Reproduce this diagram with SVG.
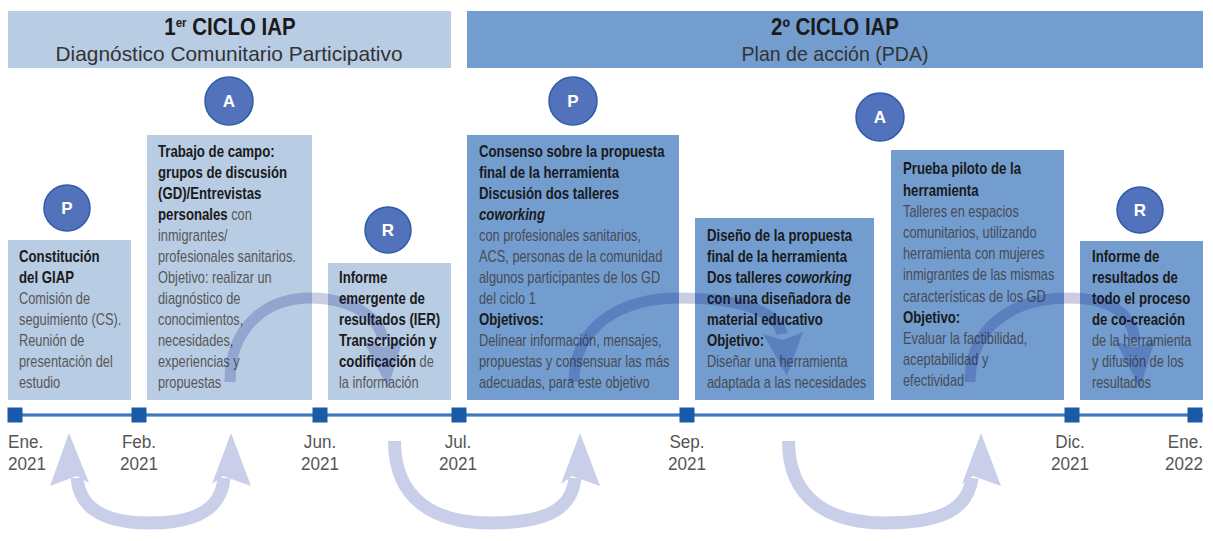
<svg xmlns="http://www.w3.org/2000/svg" width="1213" height="541" viewBox="0 0 1213 541">
<style>
.t{font-family:"Liberation Sans",Arial,sans-serif}
.lb{fill:#b8cce4}
.db{fill:#739dcf}
.b{font-size:16.5px;font-weight:bold;fill:#1a1a1a}
.i{font-style:italic}
.r{font-size:16px;fill:#575757}
.rd{font-size:16px;fill:#464b54}
.c{fill:#5273bc;stroke:#2d5ba7;stroke-width:1.5}
.cl{font-size:17px;font-weight:bold;fill:#ffffff;text-anchor:middle}
.dl{font-size:19px;fill:#555555}
.sq{fill:#1a5aab}
.ba{fill:none;stroke:#c9cfe8;stroke-width:13}
.bh{fill:#c9cfe8}
.ua{fill:none;stroke:#0a1a82;stroke-width:11}
.uh{fill:#0a1a82}
</style>
<rect width="1213" height="541" fill="#ffffff"/>

<g id="header1">
<rect class="lb" x="8" y="11" width="443" height="57"/>
<text class="t" transform="translate(230 0) scale(0.89 1)" text-anchor="middle" font-size="23" font-weight="bold" fill="#1a1a1a"><tspan x="0" y="35">1</tspan><tspan font-size="13" dy="-8">er</tspan><tspan dy="8"> CICLO IAP</tspan></text>
<text class="t" x="229" y="61" text-anchor="middle" font-size="21" fill="#333333" textLength="347" lengthAdjust="spacingAndGlyphs">Diagnóstico Comunitario Participativo</text>
</g>

<g id="header2">
<rect class="db" x="467" y="11" width="736" height="57"/>
<text class="t" x="835" y="35" text-anchor="middle" font-size="23" font-weight="bold" fill="#1a1a1a" textLength="128" lengthAdjust="spacingAndGlyphs">2º CICLO IAP</text>
<text class="t" x="835" y="61" text-anchor="middle" font-size="21" fill="#333333" textLength="187" lengthAdjust="spacingAndGlyphs">Plan de acción (PDA)</text>
</g>

<g id="timeline">
<line x1="8" y1="415" x2="1203" y2="415" stroke="#1d5bab" stroke-width="3"/>
<line x1="8" y1="415" x2="1203" y2="415" stroke="#6c95d2" stroke-width="1"/>
<rect class="sq" x="7.5" y="407.5" width="15" height="15"/>
<rect class="sq" x="131.5" y="407.5" width="15" height="15"/>
<rect class="sq" x="312.5" y="407.5" width="15" height="15"/>
<rect class="sq" x="451.5" y="407.5" width="15" height="15"/>
<rect class="sq" x="679.5" y="407.5" width="15" height="15"/>
<rect class="sq" x="1064.5" y="407.5" width="15" height="15"/>
<rect class="sq" x="1187.5" y="407.5" width="15" height="15"/>
<text class="t dl" transform="translate(8 0) scale(0.9 1)"><tspan x="0" y="448">Ene.</tspan><tspan x="0" y="470">2021</tspan></text>
<text class="t dl" transform="translate(139 0) scale(0.9 1)" text-anchor="middle"><tspan x="0" y="448">Feb.</tspan><tspan x="0" y="470">2021</tspan></text>
<text class="t dl" transform="translate(320 0) scale(0.9 1)" text-anchor="middle"><tspan x="0" y="448">Jun.</tspan><tspan x="0" y="470">2021</tspan></text>
<text class="t dl" transform="translate(458 0) scale(0.9 1)" text-anchor="middle"><tspan x="0" y="448">Jul.</tspan><tspan x="0" y="470">2021</tspan></text>
<text class="t dl" transform="translate(687 0) scale(0.9 1)" text-anchor="middle"><tspan x="0" y="448">Sep.</tspan><tspan x="0" y="470">2021</tspan></text>
<text class="t dl" transform="translate(1070 0) scale(0.9 1)" text-anchor="middle"><tspan x="0" y="448">Dic.</tspan><tspan x="0" y="470">2021</tspan></text>
<text class="t dl" transform="translate(1203 0) scale(0.9 1)" text-anchor="end"><tspan x="0" y="448">Ene.</tspan><tspan x="0" y="470">2022</tspan></text>
</g>

<g id="node-constitucion">
<rect class="lb" x="8" y="240" width="123" height="160"/>
<text class="t" transform="translate(19 0) scale(0.8 1)">
<tspan class="b" x="0" y="262.5">Constitución</tspan>
<tspan class="b" x="0" y="283.5">del GIAP</tspan>
<tspan class="r" x="0" y="304.5">Comisión de</tspan>
<tspan class="r" x="0" y="325.5">seguimiento (CS).</tspan>
<tspan class="r" x="0" y="346.5">Reunión de</tspan>
<tspan class="r" x="0" y="367.5">presentación del</tspan>
<tspan class="r" x="0" y="388.5">estudio</tspan>
</text>
</g>

<g id="node-trabajo">
<rect class="lb" x="147" y="135" width="165" height="265"/>
<text class="t" transform="translate(158 0) scale(0.8 1)">
<tspan class="b" x="0" y="157.5">Trabajo de campo:</tspan>
<tspan class="b" x="0" y="178.5">grupos de discusión</tspan>
<tspan class="b" x="0" y="199.5">(GD)/Entrevistas</tspan>
<tspan class="b" x="0" y="220.5">personales</tspan><tspan class="r"> con</tspan>
<tspan class="r" x="0" y="241.5">inmigrantes/</tspan>
<tspan class="r" x="0" y="262.5">profesionales sanitarios.</tspan>
<tspan class="r" x="0" y="283.5">Objetivo: realizar un</tspan>
<tspan class="r" x="0" y="304.5">diagnóstico de</tspan>
<tspan class="r" x="0" y="325.5">conocimientos,</tspan>
<tspan class="r" x="0" y="346.5">necesidades,</tspan>
<tspan class="r" x="0" y="367.5">experiencias y</tspan>
<tspan class="r" x="0" y="388.5">propuestas</tspan>
</text>
</g>

<g id="node-informe-ier">
<rect class="lb" x="328" y="263" width="123" height="137"/>
<text class="t" transform="translate(339 0) scale(0.8 1)">
<tspan class="b" x="0" y="283.5">Informe</tspan>
<tspan class="b" x="0" y="304.5">emergente de</tspan>
<tspan class="b" x="0" y="325.5">resultados (IER)</tspan>
<tspan class="b" x="0" y="346.5">Transcripción y</tspan>
<tspan class="b" x="0" y="367.5">codificación</tspan><tspan class="r"> de</tspan>
<tspan class="r" x="0" y="388.5">la información</tspan>
</text>
</g>

<g id="node-consenso">
<rect class="db" x="467" y="135" width="212" height="265"/>
<text class="t" transform="translate(479 0) scale(0.8 1)">
<tspan class="b" x="0" y="157.5">Consenso sobre la propuesta</tspan>
<tspan class="b" x="0" y="178.5">final de la herramienta</tspan>
<tspan class="b" x="0" y="199.5">Discusión dos talleres</tspan>
<tspan class="b i" x="0" y="220.5">coworking</tspan>
<tspan class="rd" x="0" y="241.5">con profesionales sanitarios,</tspan>
<tspan class="rd" x="0" y="262.5">ACS, personas de la comunidad</tspan>
<tspan class="rd" x="0" y="283.5">algunos participantes de los GD</tspan>
<tspan class="rd" x="0" y="304.5">del ciclo 1</tspan>
<tspan class="b" x="0" y="325.5">Objetivos:</tspan>
<tspan class="rd" x="0" y="346.5">Delinear información, mensajes,</tspan>
<tspan class="rd" x="0" y="367.5">propuestas y consensuar las más</tspan>
<tspan class="rd" x="0" y="388.5">adecuadas, para este objetivo</tspan>
</text>
</g>

<g id="node-diseno">
<rect class="db" x="695" y="218" width="179" height="182"/>
<text class="t" transform="translate(707 0) scale(0.8 1)">
<tspan class="b" x="0" y="241.5">Diseño de la propuesta</tspan>
<tspan class="b" x="0" y="262.5">final de la herramienta</tspan>
<tspan class="b" x="0" y="283.5">Dos talleres </tspan><tspan class="b i">coworking</tspan>
<tspan class="b" x="0" y="304.5">con una diseñadora de</tspan>
<tspan class="b" x="0" y="325.5">material educativo</tspan>
<tspan class="b" x="0" y="346.5">Objetivo:</tspan>
<tspan class="rd" x="0" y="367.5">Diseñar una herramienta</tspan>
<tspan class="rd" x="0" y="388.5">adaptada a las necesidades</tspan>
</text>
</g>

<g id="node-prueba">
<rect class="db" x="891" y="150" width="173" height="250"/>
<text class="t" transform="translate(903 0) scale(0.8 1)">
<tspan class="b" x="0" y="174.5">Prueba piloto de la</tspan>
<tspan class="b" x="0" y="195.7">herramienta</tspan>
<tspan class="rd" x="0" y="216.9">Talleres en espacios</tspan>
<tspan class="rd" x="0" y="238.1">comunitarios, utilizando</tspan>
<tspan class="rd" x="0" y="259.3">herramienta con mujeres</tspan>
<tspan class="rd" x="0" y="280.5">inmigrantes de las mismas</tspan>
<tspan class="rd" x="0" y="301.7">características de los GD</tspan>
<tspan class="b" x="0" y="322.9">Objetivo:</tspan>
<tspan class="rd" x="0" y="344.1">Evaluar la factibilidad,</tspan>
<tspan class="rd" x="0" y="365.3">aceptabilidad y</tspan>
<tspan class="rd" x="0" y="386.5">efectividad</tspan>
</text>
</g>

<g id="node-informe-final">
<rect class="db" x="1080" y="241" width="123" height="159"/>
<text class="t" transform="translate(1092 0) scale(0.8 1)">
<tspan class="b" x="0" y="262.5">Informe de</tspan>
<tspan class="b" x="0" y="283.5">resultados de</tspan>
<tspan class="b" x="0" y="304.5">todo el proceso</tspan>
<tspan class="b" x="0" y="325.5">de co-creación</tspan>
<tspan class="rd" x="0" y="346.5">de la herramienta</tspan>
<tspan class="rd" x="0" y="367.5">y difusión de los</tspan>
<tspan class="rd" x="0" y="388.5">resultados</tspan>
</text>
</g>

<g id="badge-p1"><circle class="c" cx="67" cy="208" r="23"/><text class="t cl" x="67" y="214">P</text></g>
<g id="badge-a1"><circle class="c" cx="229" cy="101" r="24"/><text class="t cl" x="229" y="107">A</text></g>
<g id="badge-r1"><circle class="c" cx="388" cy="230" r="23"/><text class="t cl" x="388" y="236">R</text></g>
<g id="badge-p2"><circle class="c" cx="573" cy="101" r="24"/><text class="t cl" x="573" y="107">P</text></g>
<g id="badge-a2"><circle class="c" cx="880" cy="117" r="24"/><text class="t cl" x="880" y="123">A</text></g>
<g id="badge-r2"><circle class="c" cx="1140" cy="210" r="23"/><text class="t cl" x="1140" y="216">R</text></g>

<g id="connectors">
<g opacity="0.21">
<path class="ua" d="M 230 382 C 230 325 268 298 310 298 C 352 298 380 318 383 340"/>
<polygon class="uh" points="364,342 384,347 403,339 388,388"/>
<path class="ua" d="M 574 382 C 574 325 622 298 680 298 C 740 298 778 312 782 334"/>
<polygon class="uh" points="763,334 783,340 803,332 787,376"/>
<path class="ua" d="M 970 382 C 970 325 1015 298 1068 298 C 1112 298 1132 315 1135 340"/>
<polygon class="uh" points="1116,342 1136,347 1155,340 1140,388"/>
</g>
<path class="ba" d="M 77 478 C 80 512 110 523 150 523 C 192 523 221 512 224 478"/>
<polygon class="bh" points="50,486 69,433 89,483 77,476"/>
<polygon class="bh" points="212,484 231,433 251,486 223,476"/>
<path class="ba" d="M 394.5 441 C 394.5 500 435 523 490 523 C 545 523 572 510 575 478"/>
<polygon class="bh" points="561,484 580,433 600,486 572,476"/>
<path class="ba" d="M 788.5 441 C 788.5 500 830 523 885 523 C 940 523 968 510 972 478"/>
<polygon class="bh" points="962,484 981,433 1001,486 973,476"/>
</g>
</svg>
